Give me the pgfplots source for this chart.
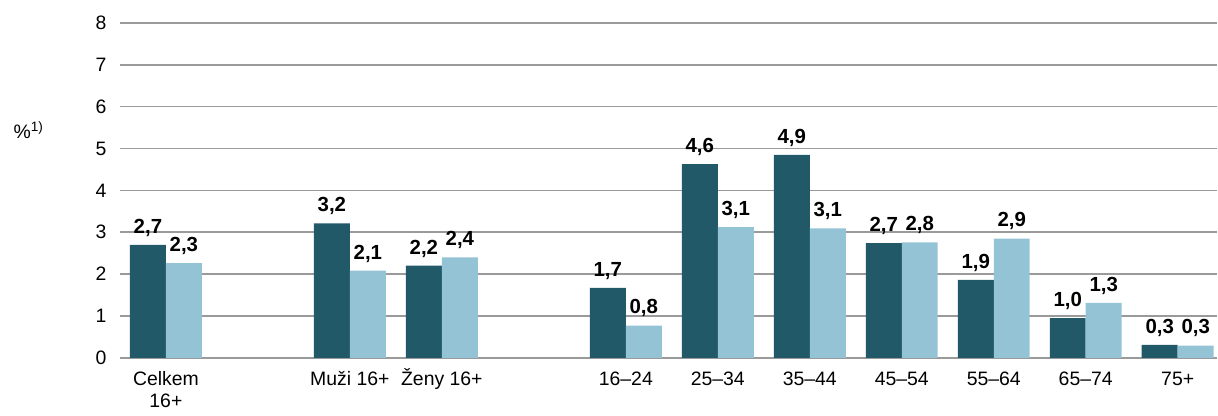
\documentclass[border=0pt]{standalone}
\usepackage{fontspec}
\setmainfont{Liberation Sans}
\usepackage{pgfplots}
\pgfplotsset{compat=1.18}
\definecolor{darkb}{HTML}{215968}
\definecolor{lightb}{HTML}{93C3D5}
\definecolor{gridc}{HTML}{9A9A9A}
\newcommand{\zp}{\vphantom{Ž}}
\begin{document}
\begin{tikzpicture}
\begin{axis}[name=ax,
  scale only axis, width=1098bp, height=335bp,
  xmin=-0.5, xmax=11.43, ymin=0, ymax=8,
  ybar=0pt, bar width=36bp,
  axis line style={draw=none},
  ymajorgrids, grid style={gridc, line width=1.5bp},
  ytick={0,1,...,8},
  xtick={0,2,3,5,6,7,8,9,10,11},
  xticklabels={\zp Celkem\\16+, \zp Muži 16+, \zp Ženy 16+, \zp 16–24, \zp 25–34, \zp 35–44, \zp 45–54, \zp 55–64, \zp 65–74, \zp 75+},
  major tick length=0pt,
  tick label style={font=\fontsize{19.5}{22}\selectfont},
  xticklabel style={align=center, yshift=-7bp},
  yticklabel style={xshift=-10bp},
  /pgf/number format/assume math mode=true,
  point meta=explicit symbolic,
  nodes near coords,
  every node near coord/.append style={font=\bfseries\fontsize{20.5}{22}\selectfont, yshift=5bp, black},
  clip=false,
]
\addplot[fill=darkb, draw=none] table[x=x, y=y, meta=l] {
x y l
0 2.70 2,7
2 3.21 3,2
3 2.20 2,2
5 1.67 1,7
6 4.63 4,6
7 4.85 4,9
8 2.74 2,7
9 1.86 1,9
10 0.95 1,0
11 0.31 0,3
};
\addplot[fill=lightb, draw=none] table[x=x, y=y, meta=l] {
x y l
0 2.26 2,3
2 2.08 2,1
3 2.40 2,4
5 0.77 0,8
6 3.12 3,1
7 3.09 3,1
8 2.76 2,8
9 2.85 2,9
10 1.31 1,3
11 0.29 0,3
};
\end{axis}
\node[anchor=west, xshift=-110bp, yshift=-107bp, font=\fontsize{19.5}{22}\selectfont] at (ax.north west) {\%\textsuperscript{1)}};
\path (ax.south west) ++(-120bp,-58bp);
\path (ax.north east) ++(0,23bp);
\end{tikzpicture}
\end{document}
